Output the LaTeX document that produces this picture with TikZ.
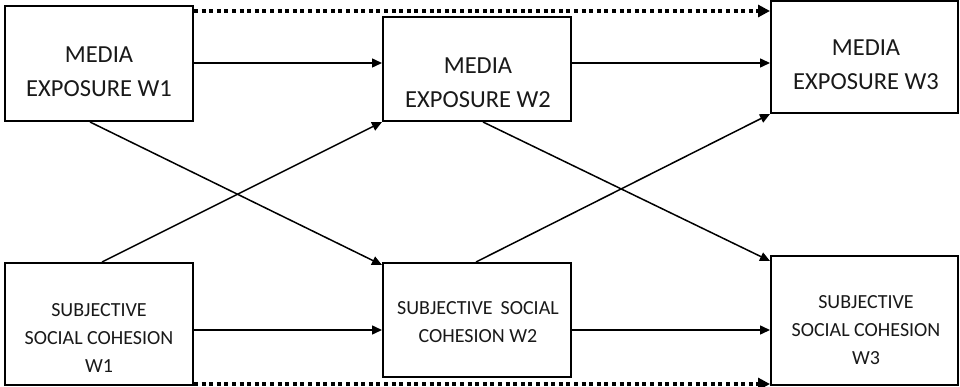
\documentclass[tikz,border=0pt]{standalone}
\usepackage{fontspec}
\setmainfont{Carlito}
\usetikzlibrary{arrows.meta,calc}

\tikzset{
  box/.style={draw=black, line width=2pt, rectangle, inner sep=0pt, fill=white},
  bigtxt/.style={align=center, inner sep=0pt, text=black!90,
                 font=\fontsize{24.5}{34}\selectfont},
  smalltxt/.style={align=center, inner sep=0pt, text=black!90,
                 font=\fontsize{20}{28}\selectfont},
  link/.style={line width=1.5pt, -{Triangle[length=10pt,width=9pt]}},
  lagged/.style={line width=4pt, dash pattern=on 4pt off 3.6pt,
                 -{Triangle[length=12pt,width=12pt]}}
}

\begin{document}
\begin{tikzpicture}[x=1pt,y=-1pt]
  \useasboundingbox (0,0) rectangle (960,387);

  % rows used by the horizontal paths
  \coordinate (dt) at (0,11);
  \coordinate (ty) at (0,63);
  \coordinate (sy) at (0,330);
  \coordinate (db) at (0,384);

  % media exposure boxes
  \node[box, minimum width=188pt, minimum height=115pt] (me1) at (99,63.5) {};
  \node[box, minimum width=188pt, minimum height=104pt] (me2) at (477,69) {};
  \node[box, minimum width=187pt, minimum height=112pt] (me3) at (864.5,57) {};

  % subjective social cohesion boxes
  \node[box, minimum width=188pt, minimum height=122pt] (ss1) at (99,324) {};
  \node[box, minimum width=188pt, minimum height=114pt] (ss2) at (477,320) {};
  \node[box, minimum width=187pt, minimum height=129pt] (ss3) at (864.5,320.5) {};

  % box texts
  \node[bigtxt] (me1t) at (99,71.5) {MEDIA\\EXPOSURE W1};
  \node[bigtxt] (me2t) at (478,83) {MEDIA\\EXPOSURE W2};
  \node[bigtxt] (me3t) at (866,65) {MEDIA\\EXPOSURE W3};
  \node[smalltxt] (ss1t) at (99,338.5) {SUBJECTIVE\\SOCIAL COHESION\\W1};
  \node[smalltxt] (ss2t) at (478,322) {SUBJECTIVE\hspace{0.4em}SOCIAL\\COHESION W2};
  \node[smalltxt] (ss3t) at (866,330.5) {SUBJECTIVE\\SOCIAL COHESION\\W3};

  % autoregressive paths
  \draw[link] (me1.east |- ty) -- (me2.west |- ty);
  \draw[link] (me2.east |- ty) -- (me3.west |- ty);
  \draw[link] (ss1.east |- sy) -- (ss2.west |- sy);
  \draw[link] (ss2.east |- sy) -- (ss3.west |- sy);

  % cross-lagged paths
  \draw[link] ($(me1.south)+(-9,0)$) -- ($(ss2.north west)+(0,3)$);
  \draw[link] ($(ss1.north)+(3,0)$) -- (me2.south west);
  \draw[link] ($(me2.south)+(6,0)$) -- ($(ss3.north west)+(0,6)$);
  \draw[link] ($(ss2.north)+(-1,0)$) -- (me3.south west);

  % wave 1 to wave 3 paths
  \draw[lagged] (me1.east |- dt) -- (me3.west |- dt);
  \draw[lagged] (ss1.east |- db) -- (ss3.west |- db);
\end{tikzpicture}
\end{document}
